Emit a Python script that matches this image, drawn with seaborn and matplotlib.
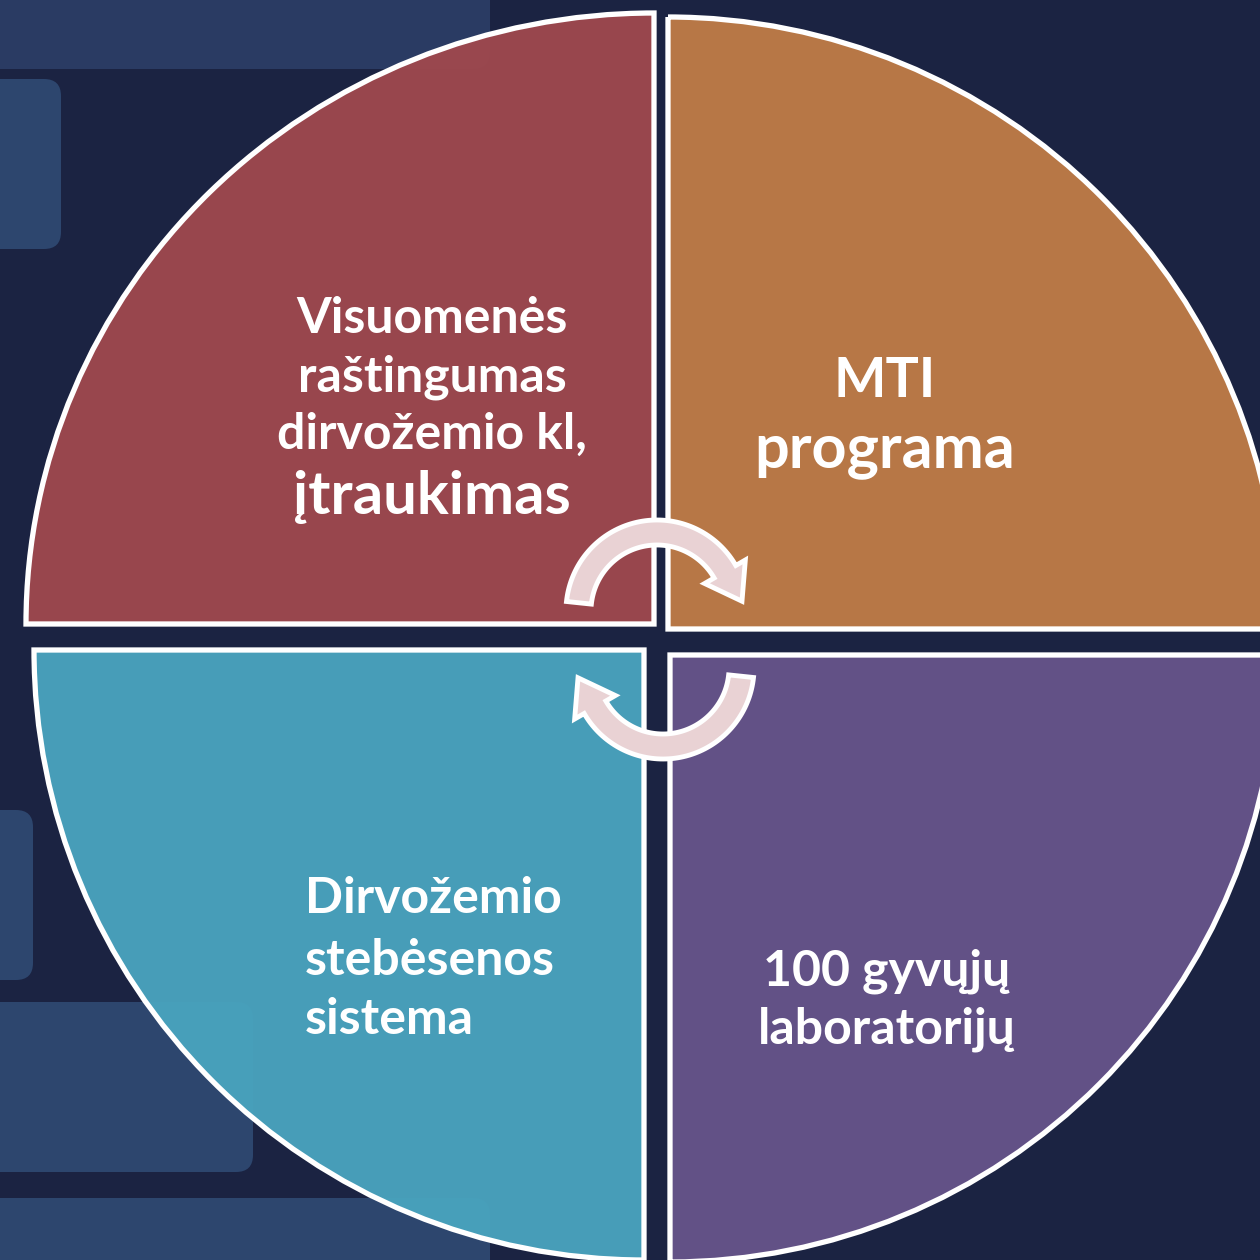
import numpy as np
import seaborn as sns
import matplotlib.pyplot as plt
from matplotlib.patches import Wedge, FancyBboxPatch, Polygon
from matplotlib.transforms import Affine2D

# ---- data -------------------------------------------------------------
quadrants = ["top_left", "top_right", "bottom_right", "bottom_left"]
quad_colors = ["#9e484e", "#bf7b47", "#66548a", "#49a3be"]
quad_lines = [
    ["Visuomenės", "raštingumas", "dirvožemio kl,", "įtraukimas"],
    ["MTI", "programa"],
    ["100 gyvųjų", "laboratorijų"],
    ["Dirvožemio", "stebėsenos", "sistema"],
]

# ---- layout (pixel coords, y down) -------------------------------------
W = 1260
bg = "#1b2342"
# corner x, corner y, radius x, radius y, start angle
quad_geom = [
    (654, 624, 628, 611, 180),
    (668, 629, 612, 612, 270),
    (670, 655, 607, 607, 0),
    (644, 650, 610, 610, 90),
]
# x, baseline y of each line, size, alignment
text_layout = [
    (432, [333, 391, 449, 514], [36, 36, 36, 43], "center"),
    (885, [397, 467], [40, 44], "center"),
    (887, [985, 1043], [36, 36], "center"),
    (305, [913, 975, 1034], [36, 36, 36], "left"),
]
bg_boxes = [  # x0, y0, x1, y1, colour
    (-40, -40, 490, 69, "#2a3b63"),
    (-40, 79, 61, 249, "#2d466e"),
    (-40, 810, 33, 980, "#2d466e"),
    (-40, 1002, 253, 1172, "#2d466e"),
    (-40, 1198, 490, 1300, "#2d466e"),
]

sns.set_theme(style="white")
plt.rcParams['font.family'] = ['Lato', 'DejaVu Sans']

fig = plt.figure(figsize=(12.6, 12.6), dpi=100)
fig.patch.set_facecolor(bg)
ax = fig.add_axes([0, 0, 1, 1])
ax.set_facecolor(bg)
ax.set_xlim(0, W)
ax.set_ylim(W, 0)
ax.set_axis_off()

for x0, y0, x1, y1, c in bg_boxes:
    ax.add_patch(FancyBboxPatch((x0, y0), x1 - x0, y1 - y0,
                                boxstyle="round,pad=0,rounding_size=17",
                                fc=c, ec="none", zorder=1))

palette = sns.color_palette(quad_colors)
for (cx, cy, rx, ry, a0), col in zip(quad_geom, palette):
    tr = Affine2D().scale(rx, ry).translate(cx, cy) + ax.transData
    w = Wedge((0, 0), 1, a0, a0 + 90, fc=col, ec="none", alpha=0.96,
              transform=tr, zorder=2)
    ax.add_patch(w)
    w2 = Wedge((0, 0), 1, a0, a0 + 90, fc="none", ec="white", lw=3.8,
               transform=tr, zorder=3, joinstyle="miter")
    ax.add_patch(w2)


def curved_arrow(cx, cy, r_in, r_out, t0, t1, head_w, head_len):
    t = np.radians(np.linspace(t0, t1, 80))
    outer = np.c_[cx + r_out * np.cos(t), cy + r_out * np.sin(t)]
    inner = np.c_[cx + r_in * np.cos(t[::-1]), cy + r_in * np.sin(t[::-1])]
    te = np.radians(t1)
    rm = (r_in + r_out) / 2
    ux, uy = np.cos(te), np.sin(te)
    tx, ty = -np.sin(te), np.cos(te)
    bx, by = cx + rm * ux, cy + rm * uy
    half = rm - r_in + head_w
    head = [
        (bx + half * ux, by + half * uy),
        (bx + head_len * tx, by + head_len * ty),
        (bx - half * ux, by - half * uy),
    ]
    pts = np.vstack([outer, head, inner])
    ax.add_patch(Polygon(pts, closed=True, fc="#e9d2d4", ec="white",
                         lw=3.5, joinstyle="miter", zorder=5))


curved_arrow(657, 611, 66, 91, 186, 330, 11, 34)
curved_arrow(663, 668, 66, 91, 6, 150, 11, 34)

for lines, (x, ys, sizes, ha) in zip(quad_lines, text_layout):
    for line, y, s in zip(lines, ys, sizes):
        ax.text(x, y, line, color="white", fontsize=s, fontweight="bold",
                ha=ha, va="baseline", zorder=6)

fig.savefig("out.png", dpi=100, facecolor=bg)
